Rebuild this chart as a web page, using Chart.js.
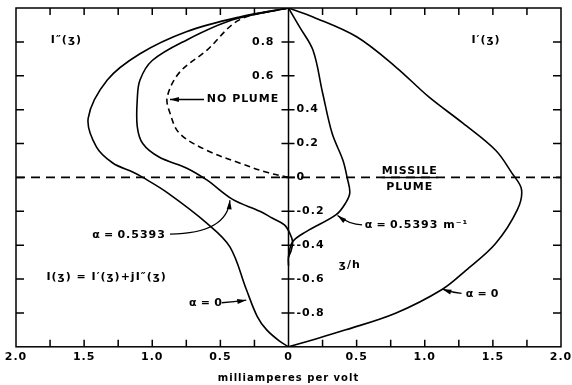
<!DOCTYPE html>
<html>
<head>
<meta charset="utf-8">
<script src="https://cdn.jsdelivr.net/npm/chart.js@4.4.1/dist/chart.umd.min.js"></script>
<style>
  html, body { margin: 0; padding: 0; background: #fff; }
  #wrap { width: 572px; height: 385px; }
</style>
</head>
<body>
<div id="wrap"><canvas id="chart"></canvas></div>
<script>
// current distribution along the missile, z/h vs mA/V
// I''(z), alpha = 0 (plotted to the left)
const zImagA0 = [1.0, 0.947, 0.86, 0.73, 0.575, 0.35, 0.18, 0.085, 0.03, 0.0, -0.09, -0.27, -0.41, -0.66, -0.82, -0.90, -0.97, -1.0];
const iImagA0 = [0, 0.36, 0.75, 1.09, 1.33, 1.47, 1.41, 1.29, 1.14, 1.07, 0.89, 0.60, 0.43, 0.31, 0.23, 0.16, 0.06, 0];
// I''(z), alpha = 0.5393
const zImagA1 = [1.0, 0.93, 0.81, 0.69, 0.575, 0.46, 0.30, 0.20, 0.12, 0.056, -0.015, -0.13, -0.20, -0.24, -0.28, -0.33, -0.38, -0.43, -0.47];
const iImagA1 = [0, 0.41, 0.75, 1.0, 1.09, 1.11, 1.11, 1.07, 0.95, 0.75, 0.60, 0.41, 0.21, 0.12, 0.03, -0.01, -0.03, -0.02, 0];
// I''(z), no plume (dashed)
const zImagNoPlume = [1.0, 0.93, 0.75, 0.62, 0.475, 0.38, 0.26, 0.16, 0.085, 0.03, 0];
const iImagNoPlume = [0, 0.36, 0.60, 0.80, 0.89, 0.87, 0.80, 0.60, 0.36, 0.16, 0];
// I'(z), alpha = 0 (plotted to the right)
const zRealA0 = [1.0, 0.947, 0.83, 0.65, 0.475, 0.32, 0.16, 0.025, -0.07, -0.19, -0.39, -0.55, -0.66, -0.80, -0.90, -0.97, -1.0];
const iRealA0 = [0, 0.18, 0.50, 0.79, 1.03, 1.28, 1.52, 1.64, 1.71, 1.68, 1.52, 1.30, 1.13, 0.79, 0.42, 0.13, 0];
// I'(z), alpha = 0.5393
const zRealA1 = [1.0, 0.89, 0.75, 0.50, 0.26, 0.10, 0.0, -0.09, -0.15, -0.22, -0.32, -0.38, -0.47, -0.52];
const iRealA1 = [0, 0.08, 0.18, 0.25, 0.32, 0.40, 0.43, 0.45, 0.42, 0.35, 0.13, 0.03, 0, 0];

const plumeZ = 0;            // missile / plume boundary
const zTicks = [-0.8, -0.6, -0.4, -0.2, 0, 0.2, 0.4, 0.6, 0.8];
const zLabelsLeft = [0.8, 0.6]; // these two sit left of the axis

const FONT = '"DejaVu Sans", sans-serif';

function pts(zs, vs, sign) {
  return zs.map((z, i) => ({ x: sign * vs[i], y: z }));
}
function curve(data, dash) {
  return {
    data: data, showLine: true, pointRadius: 0, borderColor: '#000',
    borderWidth: 1.6, tension: 0.35, borderDash: dash || [], fill: false
  };
}

// text notes, in data coordinates
const notes = [
  { t: 'I″(ʒ)', x: -1.63, y: 0.81, a: 'center' },
  { t: 'I′(ʒ)', x: 1.45, y: 0.81, a: 'center' },
  { t: 'NO PLUME', x: -0.6, y: 0.46, a: 'left' },
  { t: 'MISSILE', x: 0.89, y: 0.035, a: 'center', under: true },
  { t: 'PLUME', x: 0.89, y: -0.055, a: 'center' },
  { t: 'α\u2009=\u20090.5393 m⁻¹', x: 0.56, y: -0.28, a: 'left' },
  { t: 'α\u2009=\u20090.5393', x: -0.9, y: -0.34, a: 'right' },
  { t: 'I(ʒ) = I′(ʒ)+jI″(ʒ)', x: -1.335, y: -0.587, a: 'center' },
  { t: 'α\u2009=\u20090', x: -0.73, y: -0.74, a: 'left' },
  { t: 'α\u2009=\u20090', x: 1.30, y: -0.69, a: 'left' },
  { t: 'ʒ/h', x: 0.45, y: -0.52, a: 'center' }
];
// arrows: from (x0,y0) via control (cx,cy) to tip (x1,y1)
const arrows = [
  { x0: -0.62, y0: 0.46, cx: -0.75, cy: 0.46, x1: -0.87, y1: 0.46 },
  { x0: 0.54, y0: -0.28, cx: 0.45, cy: -0.28, x1: 0.36, y1: -0.225 },
  { x0: -0.87, y0: -0.335, cx: -0.45, cy: -0.33, x1: -0.43, y1: -0.135 },
  { x0: -0.49, y0: -0.74, cx: -0.40, cy: -0.735, x1: -0.31, y1: -0.725 },
  { x0: 1.27, y0: -0.685, cx: 1.20, cy: -0.68, x1: 1.13, y1: -0.66 }
];

// wide lettering like the original
const spacingPlugin = {
  id: 'spacing',
  beforeUpdate(chart) { chart.ctx.letterSpacing = '1px'; },
  beforeDraw(chart) { chart.ctx.letterSpacing = '1px'; }
};

const framePlugin = {
  id: 'frame',
  afterDatasetsDraw(chart) {
    const { ctx, chartArea: ca, scales: { x, y } } = chart;
    ctx.save();
    ctx.strokeStyle = '#000';
    ctx.fillStyle = '#000';
    ctx.lineWidth = 1.5;
    ctx.setLineDash([]);
    ctx.strokeRect(ca.left, ca.top, ca.right - ca.left, ca.bottom - ca.top);

    // inward ticks on the frame
    ctx.beginPath();
    for (let v = -1.75; v < 2; v += 0.25) {
      const px = x.getPixelForValue(v);
      ctx.moveTo(px, ca.top); ctx.lineTo(px, ca.top + 7);
      ctx.moveTo(px, ca.bottom); ctx.lineTo(px, ca.bottom - 7);
    }
    zTicks.forEach(z => {
      const py = y.getPixelForValue(z);
      ctx.moveTo(ca.left, py); ctx.lineTo(ca.left + 8, py);
      ctx.moveTo(ca.right, py); ctx.lineTo(ca.right - 8, py);
    });
    // centre axis with crossing ticks
    const x0 = x.getPixelForValue(0);
    ctx.moveTo(x0, ca.top); ctx.lineTo(x0, ca.bottom);
    zTicks.forEach(z => {
      const py = y.getPixelForValue(z);
      ctx.moveTo(x0 - 7, py); ctx.lineTo(x0 + 6, py);
    });
    ctx.stroke();

    // z/h labels on the centre axis
    ctx.font = 'bold 11px ' + FONT;
    ctx.textBaseline = 'middle';
    zTicks.forEach(z => {
      const py = y.getPixelForValue(z);
      const s = z === 0 ? '0' : z.toFixed(1);
      if (zLabelsLeft.includes(z)) {
        ctx.textAlign = 'right';
        ctx.fillText(s, x0 - 14, py);
      } else {
        ctx.textAlign = 'left';
        ctx.fillText(s, x0 + 8, py);
      }
    });

    // notes
    notes.forEach(n => {
      const px = x.getPixelForValue(n.x), py = y.getPixelForValue(n.y);
      ctx.textAlign = n.a;
      ctx.fillText(n.t, px, py);
      if (n.under) {
        const w = ctx.measureText(n.t).width;
        ctx.beginPath();
        ctx.moveTo(px - w / 2, y.getPixelForValue(plumeZ));
        ctx.lineTo(px + w / 2, y.getPixelForValue(plumeZ));
        ctx.stroke();
      }
    });

    // arrows
    ctx.lineWidth = 1.3;
    arrows.forEach(a => {
      const sx = x.getPixelForValue(a.x0), sy = y.getPixelForValue(a.y0);
      const cx = x.getPixelForValue(a.cx), cy = y.getPixelForValue(a.cy);
      const ex = x.getPixelForValue(a.x1), ey = y.getPixelForValue(a.y1);
      ctx.beginPath();
      ctx.moveTo(sx, sy);
      ctx.quadraticCurveTo(cx, cy, ex, ey);
      ctx.stroke();
      const ang = Math.atan2(ey - cy, ex - cx);
      ctx.beginPath();
      ctx.moveTo(ex, ey);
      ctx.lineTo(ex - 9 * Math.cos(ang) + 2.5 * Math.sin(ang), ey - 9 * Math.sin(ang) - 2.5 * Math.cos(ang));
      ctx.lineTo(ex - 9 * Math.cos(ang) - 2.5 * Math.sin(ang), ey - 9 * Math.sin(ang) + 2.5 * Math.cos(ang));
      ctx.closePath();
      ctx.fill();
    });
    ctx.restore();
  }
};

new Chart(document.getElementById('chart'), {
  type: 'scatter',
  data: {
    datasets: [
      curve(pts(zImagA0, iImagA0, -1)),
      curve(pts(zImagA1, iImagA1, -1)),
      curve(pts(zImagNoPlume, iImagNoPlume, -1), [6, 4]),
      curve(pts(zRealA0, iRealA0, 1)),
      curve(pts(zRealA1, iRealA1, 1)),
      Object.assign(curve([{ x: -2, y: plumeZ }, { x: 2, y: plumeZ }], [9, 6]), { tension: 0 })
    ]
  },
  options: {
    responsive: true,
    maintainAspectRatio: false,
    devicePixelRatio: 1,
    animation: false,
    layout: { padding: { left: 16, right: 11, top: 8, bottom: 1 } },
    plugins: { legend: { display: false }, tooltip: { enabled: false } },
    scales: {
      x: {
        type: 'linear', min: -2, max: 2,
        grid: { display: false, drawTicks: false },
        border: { display: false },
        afterFit(scale) { scale.paddingLeft = 0; scale.paddingRight = 0; },
        ticks: {
          stepSize: 0.25, autoSkip: false, maxRotation: 0, padding: 4,
          color: '#000', font: { family: FONT, size: 11, weight: 'bold' },
          callback: v => (Math.abs(v * 2) % 1 === 0) ? (v === 0 ? '0' : Math.abs(v).toFixed(1)) : ''
        },
        title: {
          display: true, text: 'milliamperes per volt', color: '#000',
          font: { family: FONT, size: 10, weight: 'bold' }, padding: { top: 4, bottom: 0 }
        }
      },
      y: { type: 'linear', min: -1, max: 1, display: false }
    }
  },
  plugins: [spacingPlugin, framePlugin]
});
</script>
</body>
</html>
